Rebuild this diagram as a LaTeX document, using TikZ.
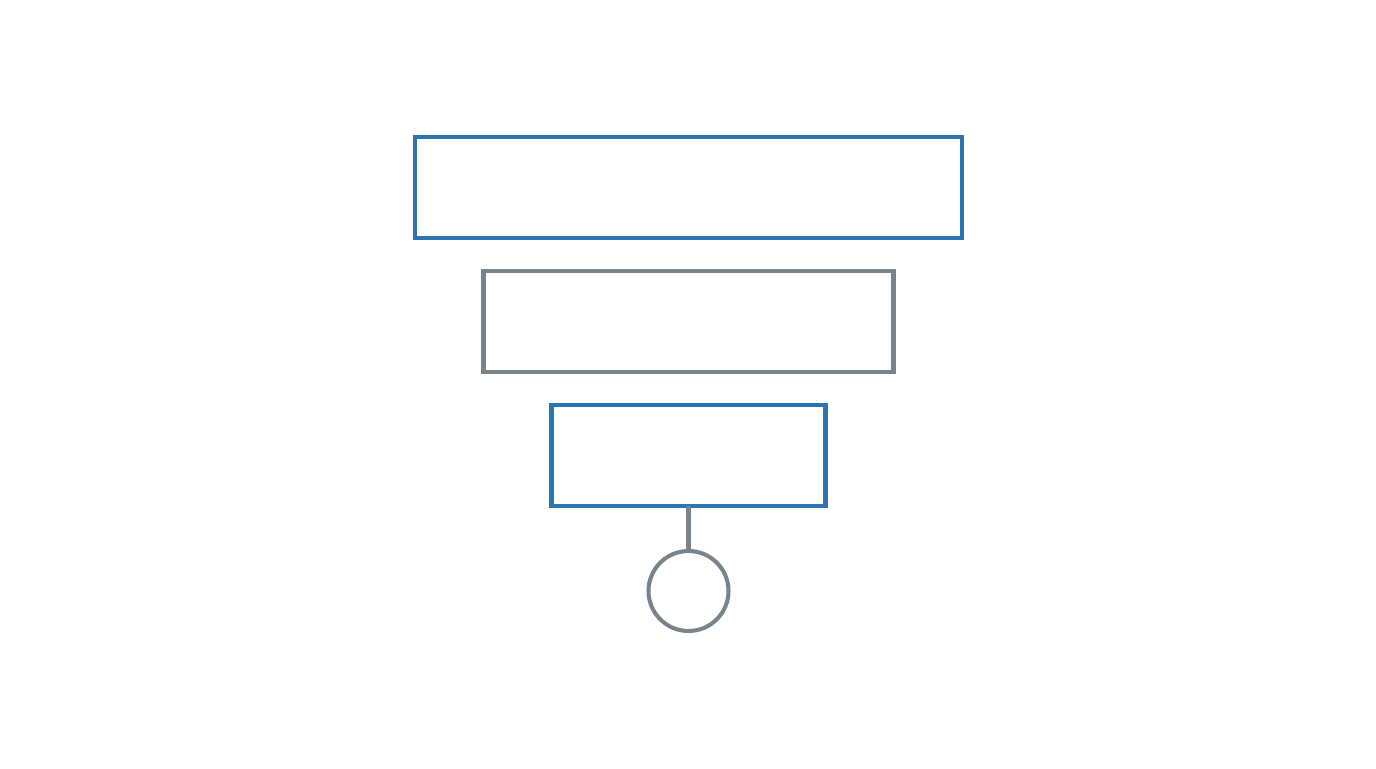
\documentclass[tikz,border=0pt]{standalone}
\usetikzlibrary{positioning}
\definecolor{tierblue}{RGB}{42,116,178}
\definecolor{tiergray}{RGB}{120,131,140}
\begin{document}
\begin{tikzpicture}[line width=2.3pt,
		tier/.style={draw,rectangle,minimum height=2.02cm,outer sep=0pt,inner sep=0pt},
		base/.style={draw=tiergray,circle,minimum size=1.6cm,outer sep=0pt,inner sep=0pt}]
			\useasboundingbox (0,0) rectangle (27.52,15.36);
			\node[tier,draw=tierblue,minimum width=10.94cm] (top) at (13.77,11.61) {};
			\node[tier,draw=tiergray,minimum width=8.2cm,below=0.66cm of top] (mid) {};
			\node[tier,draw=tierblue,minimum width=5.48cm,below=0.66cm of mid] (low) {};
			\node[base,below=0.9cm of low] (foot) {};
			\draw[tiergray] (low.south) -- (foot.north);
		\end{tikzpicture}
\end{document}
